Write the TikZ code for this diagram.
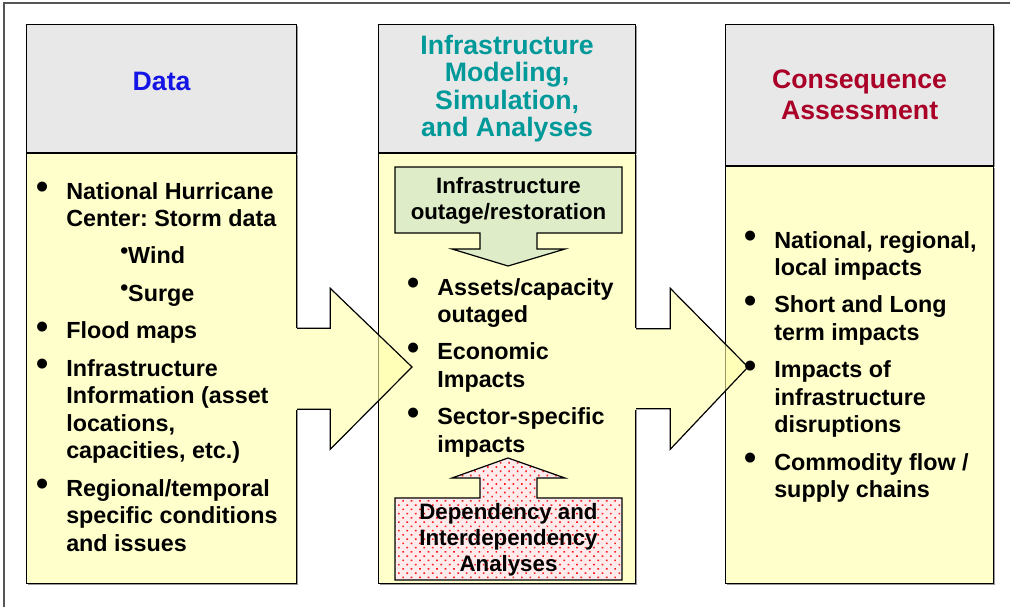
\documentclass[tikz,border=0pt]{standalone}
\usepackage{fontspec}
\setmainfont{Liberation Sans}
\frenchspacing
\usetikzlibrary{positioning, calc, patterns.meta, shadows}
\definecolor{headgray}{RGB}{232,232,232}
\definecolor{bodyyellow}{RGB}{255,255,204}
\definecolor{arrowyellow}{RGB}{255,255,170}
\definecolor{boxgreen}{RGB}{222,237,200}
\definecolor{datablue}{RGB}{20,20,230}
\definecolor{modelteal}{RGB}{0,153,153}
\definecolor{conscrimson}{RGB}{170,0,40}
\definecolor{framegray}{RGB}{85,85,85}
\newcommand{\bul}[1][13.5pt]{\llap{\raisebox{0.4pt}{\fontsize{26}{26}\selectfont •}\hspace{#1}}}
\newcommand{\subbul}{\hspace{40.5pt}\raisebox{4.4pt}{\fontsize{17}{17}\selectfont •}}

\begin{document}
\begin{tikzpicture}[x=0.75pt, y=-0.75pt, line join=miter]
			\tikzstyle{colhead}=[draw=black, line width=0.9pt, fill=headgray, inner sep=0pt, drop shadow={shadow xshift=0.8pt, shadow yshift=-0.8pt, fill=black, opacity=0.4}]
			\tikzstyle{colbody}=[draw=black, line width=0.9pt, fill=bodyyellow, inner sep=0pt, drop shadow={shadow xshift=0.8pt, shadow yshift=-0.8pt, fill=black, opacity=0.4}]
			\tikzstyle{title}=[inner sep=0pt, align=center, font=\fontsize{20}{20.5}\selectfont\bfseries]
			\tikzstyle{listtext}=[inner sep=0pt, anchor=base west, font=\fontsize{17.5}{20.6}\selectfont\bfseries]
			\tikzstyle{boxtext}=[inner sep=0pt, align=center, font=\fontsize{16.7}{19.5}\selectfont\bfseries]
			\tikzstyle{calloutbox}=[draw=black, line width=0.9pt]
			\tikzstyle{arrowline}=[draw=black, line width=0.9pt]
			%%
			\useasboundingbox (0,0) rectangle (1010,607);
			\draw[framegray, line width=1.5pt] (3.5,607) -- (3.5,2.5) -- (1010,2.5);
			
			%% the three columns
			\node (dhead) at (26,24) [colhead, anchor=north west, minimum width=202.5pt, minimum height=96pt] {};
			\node (dbody) [colbody, below=0pt of dhead, minimum width=202.5pt, minimum height=322.5pt] {};
			\node (mhead) at (378,24) [colhead, anchor=north west, minimum width=192.75pt, minimum height=96pt] {};
			\node (mbody) [colbody, below=0pt of mhead, minimum width=192.75pt, minimum height=322.5pt] {};
			\node (chead) at (725,24) [colhead, anchor=north west, minimum width=201pt, minimum height=105.75pt] {};
			\node (cbody) [colbody, below=0pt of chead, minimum width=201pt, minimum height=312.75pt] {};
			
			\node (dtitle) [title, text=datablue, yshift=5.6pt] at (dhead.center) {Data};
			\node (mtitle) [title, text=modelteal] at (mhead.center) {Infrastructure\\Modeling,\\Simulation,\\and Analyses};
			\node (ctitle) [title, text=conscrimson, font=\fontsize{20}{23}\selectfont\bfseries] at (chead.center) {Consequence\\Assessment};
			
			%% callouts in the middle column
			\filldraw[calloutbox, fill=boxgreen] (395,167) -- (622,167) -- (622,233) -- (537,233) -- (537,249) -- (565,249) -- (508,266) -- (452,249) -- (480,249) -- (480,233) -- (395,233) -- cycle;
			\node (outage) [boxtext] at (508.5,201) {Infrastructure\\outage/restoration};
			
			\draw[calloutbox, preaction={fill=red!8}, pattern={Dots[angle=45, distance=4.5pt, radius=0.85pt]}, pattern color=red!90] (395,580) -- (622,580) -- (622,498) -- (537,498) -- (537,478) -- (565,478) -- (508,458) -- (452,478) -- (480,478) -- (480,498) -- (395,498) -- cycle;
			\begin{scope}
				\clip (395,498) rectangle (622,578.5);
				\node (depend) [boxtext] at (508.5,540) {Dependency and\\Interdependency\\Analyses};
			\end{scope}
			
			%% big arrows between the columns
			\coordinate (dtip) at (412,367);
			\coordinate (mtip) at (748,367);
			
			\fill[bodyyellow] ($(dbody.east)+(-3,-41)$) rectangle ($(dbody.east)+(2,41)$);
			\fill[arrowyellow, fill opacity=0.6] let \p1=(dbody.east), \p2=(dtip) in (\x1+1.5pt,\y1+30.4pt) -- (\x1+24.75pt,\y1+30.4pt) -- (\x1+24.75pt,\y1+60.4pt) -- (\p2) -- (\x1+24.75pt,\y1-60.4pt) -- (\x1+24.75pt,\y1-30.4pt) -- (\x1+1.5pt,\y1-30.4pt) -- cycle;
			\draw[arrowline] let \p1=(dbody.east), \p2=(dtip) in (\x1,\y1+30.4pt) -- (\x1+24.75pt,\y1+30.4pt) -- (\x1+24.75pt,\y1+60.4pt) -- (\p2) -- (\x1+24.75pt,\y1-60.4pt) -- (\x1+24.75pt,\y1-30.4pt) -- (\x1,\y1-30.4pt);
			
			\fill[bodyyellow] ($(mbody.east)+(-3,-41)$) rectangle ($(mbody.east)+(2,41)$);
			\fill[arrowyellow, fill opacity=0.6] let \p1=(mbody.east), \p2=(mtip) in (\x1+1.5pt,\y1+30pt) -- (\x1+25.5pt,\y1+30pt) -- (\x1+25.5pt,\y1+60.4pt) -- (\p2) -- (\x1+25.5pt,\y1-60.4pt) -- (\x1+25.5pt,\y1-30pt) -- (\x1+1.5pt,\y1-30pt) -- cycle;
			\draw[arrowline] let \p1=(mbody.east), \p2=(mtip) in (\x1,\y1+30pt) -- (\x1+25.5pt,\y1+30pt) -- (\x1+25.5pt,\y1+60.4pt) -- (\p2) -- (\x1+25.5pt,\y1-60.4pt) -- (\x1+25.5pt,\y1-30pt) -- (\x1,\y1-30pt);
			
			%% bullet lists
			\node (dlist) [listtext] at (66,199) {\begin{tabular}[t]{@{}l@{}}
					\bul National Hurricane\\
					Center: Storm data\\[7.5pt]
					\subbul Wind\\[7.5pt]
					\subbul Surge\\[7.5pt]
					\bul Flood maps\\[7.5pt]
					\bul Infrastructure\\
					Information (asset\\
					locations,\\
					capacities, etc.)\\[7.5pt]
					\bul Regional/temporal\\
					specific conditions\\
					and issues
				\end{tabular}};
			\node (mlist) [listtext] at (437,295) {\begin{tabular}[t]{@{}l@{}}
					\bul Assets/capacity\\
					outaged\\[7.5pt]
					\bul Economic\\
					Impacts\\[7.5pt]
					\bul Sector-specific\\
					impacts
				\end{tabular}};
			\node (clist) [listtext] at (774,248) {\begin{tabular}[t]{@{}l@{}}
					\bul National, regional,\\
					local impacts\\[7.5pt]
					\bul Short and Long\\
					term impacts\\[7.5pt]
					\bul Impacts of\\
					infrastructure\\
					disruptions\\[7.5pt]
					\bul Commodity flow /\\
					supply chains
				\end{tabular}};
\end{tikzpicture}
\end{document}
